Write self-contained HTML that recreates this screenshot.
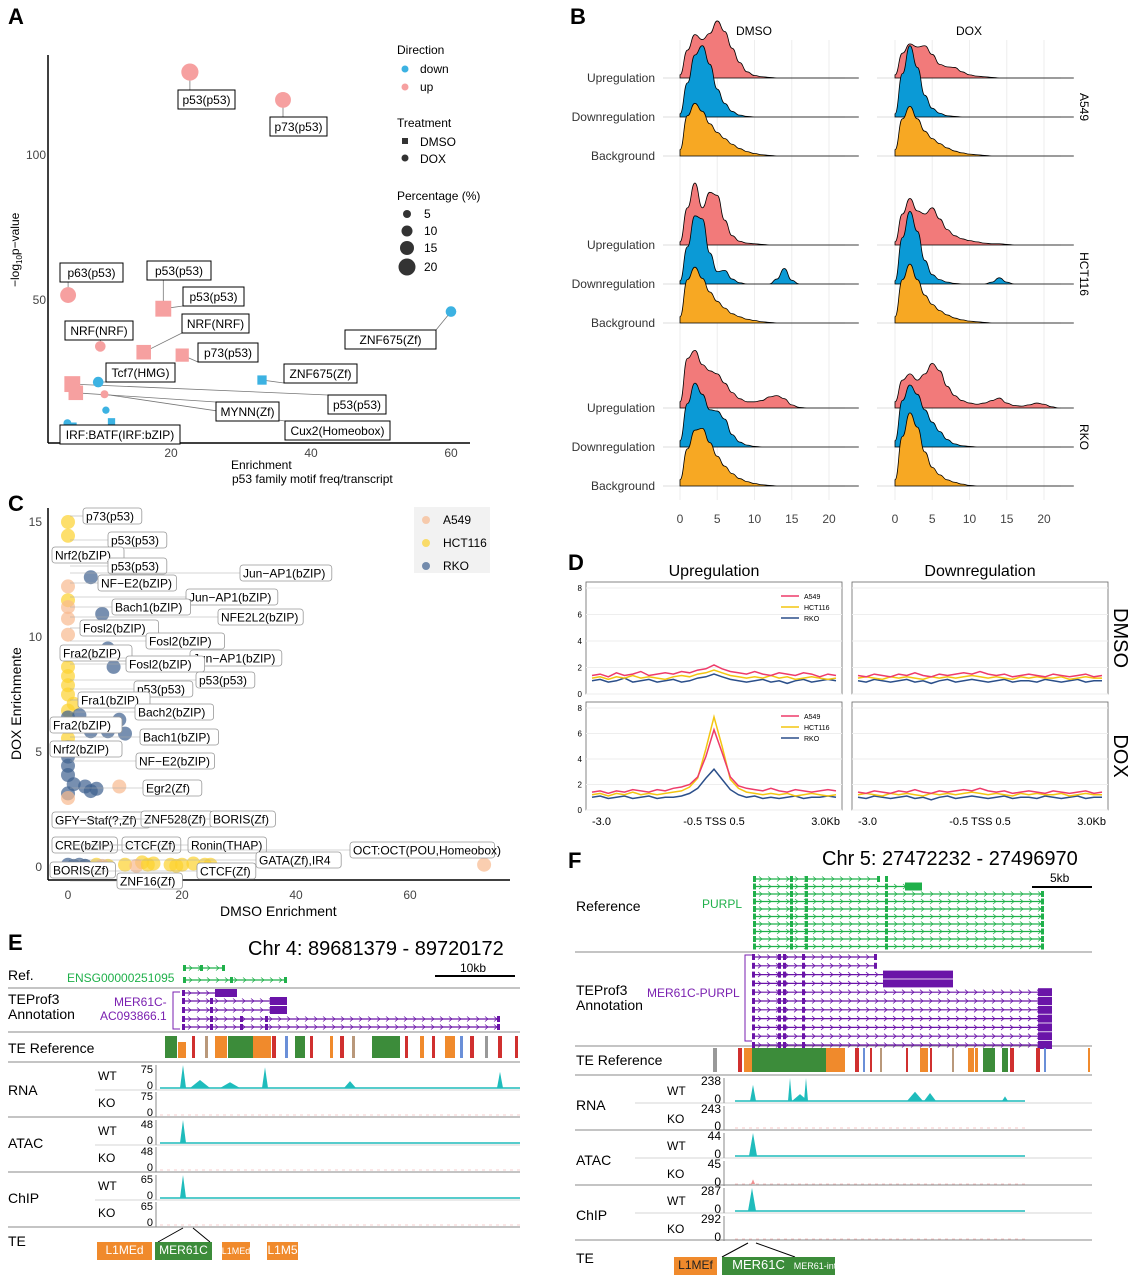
<!DOCTYPE html>
<html><head><meta charset="utf-8"><style>
body{margin:0;background:#fff}
svg{display:block;font-family:"Liberation Sans",Arial,sans-serif}
</style></head><body>
<svg id="fig" width="1131" height="1280" viewBox="0 0 1131 1280">
<g id="gA"></g>
<g id="gB"></g>
<g id="gC"></g>
<g id="gD"></g>
<g id="gE"></g>
<g id="gF"></g>
</svg>
<script>
// ---------- Panel A data ----------
const aX=[22.7,36,5.3,18.9,9.9,16.1,21.6,9.6,33,60,5.9,6.4,10.5,11.5,10.7,5.2,6.0];
const aY=[128.6,119,51.7,47,34,32,31,21.7,22.4,46,21,18,17.5,8,12,7.5,6.5];
const aDir=['up','up','up','up','up','up','up','down','down','down','up','up','up','down','down','down','down'];
const aTreat=['DOX','DOX','DOX','DMSO','DOX','DMSO','DMSO','DOX','DMSO','DOX','DMSO','DMSO','DOX','DMSO','DOX','DOX','DMSO'];
const aPct=[20,18,18,18,10,16,14,10,8,10,18,16,6,5,5,6,5];
const aXTicks=[20,40,60];
const aYTicks=[50,100];
// ---------- Panel B data (density heights on x grid 0..24) ----------
const bGrid=[0,1,2,3,4,5,6,7,8,9,10,11,12,13,14,15,16,17,18,19,20,21,22,23,24];
const bDens={
a549_dmso:[[0.05,0.45,0.7,0.62,0.72,0.92,0.75,0.48,0.25,0.1,0.04,0.02,0.01,0,0,0,0,0,0,0,0,0,0,0,0],
 [0.05,0.55,1.0,1.15,0.85,0.45,0.22,0.09,0.03,0.01,0,0,0,0,0,0,0,0,0,0,0,0,0,0,0],
 [0.1,0.65,0.85,0.72,0.52,0.38,0.28,0.19,0.12,0.07,0.04,0.02,0.01,0,0,0,0,0,0,0,0,0,0,0,0]],
a549_dox:[[0.05,0.4,0.55,0.5,0.52,0.38,0.22,0.18,0.17,0.1,0.05,0.03,0.02,0.01,0,0,0,0,0,0,0,0,0,0,0],
 [0.05,0.7,1.15,0.8,0.35,0.14,0.06,0.02,0.01,0,0,0,0,0,0,0,0,0,0,0,0,0,0,0,0],
 [0.1,0.6,0.8,0.6,0.4,0.28,0.2,0.13,0.08,0.05,0.03,0.02,0.01,0,0,0,0,0,0,0,0,0,0,0,0]],
hct_dmso:[[0.05,0.6,1.0,0.6,0.85,0.8,0.4,0.15,0.06,0.03,0.02,0.01,0,0,0,0,0,0,0,0,0,0,0,0,0],
 [0.05,0.6,1.1,1.05,0.5,0.2,0.22,0.08,0.02,0,0,0,0,0.08,0.25,0.06,0,0,0,0,0,0,0,0,0],
 [0.1,0.7,0.9,0.72,0.5,0.35,0.24,0.15,0.1,0.06,0.04,0.02,0.01,0,0,0,0,0,0,0,0,0,0,0,0]],
hct_dox:[[0.05,0.5,0.75,0.55,0.5,0.6,0.42,0.25,0.15,0.1,0.07,0.05,0.03,0.02,0.02,0.01,0,0,0,0,0,0,0,0,0],
 [0.05,0.75,1.17,0.85,0.38,0.15,0.07,0.03,0.01,0,0,0,0,0.03,0.1,0.03,0,0,0,0,0,0,0,0,0],
 [0.1,0.7,0.95,0.7,0.45,0.3,0.2,0.13,0.08,0.05,0.03,0.02,0.01,0,0,0,0,0,0,0,0,0,0,0,0]],
rko_dmso:[[0.1,0.8,0.93,0.7,0.6,0.55,0.4,0.25,0.15,0.1,0.1,0.12,0.18,0.2,0.15,0.05,0.01,0,0,0,0,0,0,0,0],
 [0.1,0.7,1.03,0.85,0.6,0.58,0.45,0.2,0.08,0.03,0.01,0,0,0,0,0,0,0,0,0,0,0,0,0,0],
 [0.1,0.6,0.9,0.93,0.7,0.48,0.32,0.2,0.12,0.07,0.04,0.02,0.01,0,0,0,0,0,0,0,0,0,0,0,0]],
rko_dox:[[0.1,0.45,0.55,0.45,0.55,0.72,0.6,0.35,0.2,0.12,0.08,0.06,0.08,0.12,0.16,0.08,0.04,0.03,0.05,0.08,0.06,0.02,0,0,0],
 [0.1,0.75,1.0,0.85,0.6,0.4,0.25,0.12,0.05,0.02,0.01,0,0,0,0,0,0,0,0,0,0,0,0,0,0],
 [0.1,0.8,1.18,0.95,0.55,0.3,0.18,0.1,0.06,0.03,0.01,0,0,0,0,0,0,0,0,0,0,0,0,0,0]]};
const bXTicks=[0,5,10,15,20];
const bRows=['Upregulation','Downregulation','Background'];
const bCells=['A549','HCT116','RKO'];
// ---------- Panel C data ----------
const cX=[0,0,0,4,0,0,0,6,0,0,7,0,0,8,0,0,0,1,0,0,2,0,9,4,0,0,7,0,0,10,0,1,0,5,0,3,4,9,0,2,3,5,7,10,13,15,18,20,22,25,1,3,6,12,14,19,24,73];
const cY=[15.0,14.4,13.6,12.6,12.2,11.6,11.3,11.0,10.8,10.1,9.5,9.2,8.7,8.7,8.3,7.9,7.5,7.1,6.8,6.5,6.6,6.2,6.4,5.9,5.6,5.2,5.9,4.8,4.4,5.8,4.0,3.6,3.2,3.4,3.0,3.5,3.3,3.5,0.1,0.1,0.05,0.1,0.05,0.1,0.2,0.15,0.1,0.1,0.15,0.1,0.05,0.05,0.05,0.05,0.1,0.05,0.1,0.1];
const cCell=['HCT116','HCT116','A549','RKO','A549','HCT116','A549','RKO','A549','A549','RKO','HCT116','HCT116','RKO','HCT116','HCT116','HCT116','HCT116','HCT116','RKO','RKO','HCT116','RKO','RKO','HCT116','RKO','RKO','RKO','RKO','RKO','RKO','RKO','RKO','RKO','A549','RKO','RKO','A549','RKO','RKO','RKO','HCT116','HCT116','HCT116','HCT116','HCT116','HCT116','HCT116','HCT116','HCT116','RKO','RKO','A549','A549','HCT116','HCT116','HCT116','A549'];
const cXTicks=[0,20,40,60];
const cYTicks=[0,5,10,15];
// ---------- Panel D data (x = -3..3, 31 points) ----------
const dA549Up=[1.4,1.5,1.3,1.6,1.4,1.5,1.7,1.4,1.5,1.6,1.5,1.7,1.6,1.8,1.9,2.2,1.9,1.7,1.6,1.5,1.7,1.5,1.4,1.6,1.5,1.4,1.6,1.5,1.3,1.5,1.4];
const dHctUp=[1.2,1.3,1.1,1.3,1.2,1.4,1.2,1.3,1.2,1.1,1.3,1.4,1.3,1.5,1.6,1.8,1.6,1.4,1.3,1.2,1.3,1.2,1.4,1.2,1.3,1.1,1.2,1.3,1.2,1.1,1.2];
const dRkoUp=[1.0,1.1,0.9,1.0,1.2,0.9,1.0,1.1,0.9,1.0,1.1,0.9,1.0,1.2,1.3,1.5,1.3,1.1,1.0,0.9,1.0,1.1,0.9,1.0,0.8,1.0,1.1,0.9,1.0,1.1,1.0];
const dA549DoxUp=[1.4,1.5,1.3,1.5,1.4,1.6,1.5,1.4,1.6,1.5,1.7,1.8,2.0,2.6,4.2,6.3,4.5,2.6,1.9,1.7,1.6,1.5,1.7,1.5,1.4,1.6,1.5,1.4,1.5,1.6,1.5];
const dHctDoxUp=[1.2,1.3,1.1,1.3,1.2,1.4,1.2,1.3,1.2,1.3,1.4,1.5,1.8,2.5,4.8,7.3,5.0,2.4,1.7,1.4,1.3,1.2,1.3,1.2,1.3,1.1,1.2,1.3,1.2,1.1,1.2];
const dRkoDoxUp=[1.0,1.1,0.9,1.0,1.1,0.9,1.0,1.1,0.9,1.0,1.0,1.1,1.3,1.7,2.5,3.2,2.4,1.6,1.2,1.0,1.1,0.9,1.0,0.9,1.0,1.1,0.9,1.0,1.0,1.1,1.0];
const dA549Down=[1.4,1.3,1.5,1.4,1.3,1.5,1.4,1.6,1.4,1.3,1.5,1.4,1.5,1.6,1.5,1.7,1.5,1.4,1.5,1.3,1.4,1.5,1.4,1.3,1.5,1.4,1.3,1.4,1.5,1.3,1.4];
const dHctDown=[1.2,1.3,1.2,1.1,1.3,1.2,1.3,1.2,1.1,1.3,1.2,1.3,1.2,1.3,1.4,1.3,1.2,1.3,1.2,1.1,1.3,1.2,1.3,1.2,1.2,1.3,1.1,1.2,1.3,1.2,1.2];
const dRkoDown=[1.0,0.9,1.1,1.0,0.9,1.0,1.1,0.9,1.0,0.8,1.0,1.1,0.9,1.0,1.1,1.0,0.9,1.0,1.1,0.9,1.0,1.0,0.9,1.1,1.0,0.9,1.0,1.1,0.9,1.0,1.0];
const dYTicks=[0,2,4,6,8];

const NS='http://www.w3.org/2000/svg';
function el(p,tag,at,txt){const e=document.createElementNS(NS,tag);for(const k in at)e.setAttribute(k,at[k]);if(txt!==undefined)e.textContent=txt;p.appendChild(e);return e;}
function T(p,x,y,s,size,extra){const a=Object.assign({x:x,y:y,'font-size':size||12,fill:'#000'},extra||{});return el(p,'text',a,s);}

// ---------- Panel A ----------
(function(){
const g=document.getElementById('gA');
const sx=v=>31+7*v, sy=v=>445-2.9*v;
T(g,8,24,'A',22,{'font-weight':'bold'});
el(g,'line',{x1:48,y1:55,x2:48,y2:443,stroke:'#000','stroke-width':1.5});
el(g,'line',{x1:48,y1:443,x2:470,y2:443,stroke:'#000','stroke-width':1.5});
aXTicks.forEach(t=>{const tl=T(g,sx(t),457,String(t),12,{'text-anchor':'middle',fill:'#444'});});
aYTicks.forEach(t=>{const tl=T(g,46,sy(t)+4,String(t),12,{'text-anchor':'end',fill:'#444'});});
const yt=el(g,'text',{x:0,y:0,'font-size':12,transform:'translate(19,287) rotate(-90)'});yt.innerHTML='−log<tspan font-size="8" dy="3">10</tspan><tspan dy="-3">p−value</tspan>';

T(g,231,469,'Enrichment',12);
T(g,232,483,'p53 family motif freq/transcript',12);
const labels=[['p53(p53)',178,90,57,0],['p73(p53)',270,117,57,1],['p63(p53)',60,263,63,2],['p53(p53)',147,261,64,3],['p53(p53)',183,287,61,3],['NRF(NRF)',65,321,68,4],['NRF(NRF)',182,314,67,5],['p73(p53)',198,343,60,6],['Tcf7(HMG)',106,363,69,7],['ZNF675(Zf)',345,330,91,9],['ZNF675(Zf)',284,364,73,8],['p53(p53)',328,395,58,10],['MYNN(Zf)',216,402,63,11],['Cux2(Homeobox)',285,421,105,12],['IRF:BATF(IRF:bZIP)',60,425,120,15]];
labels.forEach(l=>{const px=sx(aX[l[4]]),py=sy(aY[l[4]]);const cx=Math.max(l[1],Math.min(l[1]+l[3],px));const cy=py<l[2]?l[2]:l[2]+19;
 el(g,'line',{x1:px,y1:py,x2:cx,y2:cy,stroke:'#777','stroke-width':0.8});});
aX.forEach((v,i)=>{const c=aDir[i]==='up'?'#f6a0a0':'#3cb2e2';const r=2+aPct[i]*0.33;let m;
 if(aTreat[i]==='DOX')m=el(g,'circle',{cx:sx(v),cy:sy(aY[i]),r:r,fill:c});
 else m=el(g,'rect',{x:sx(v)-r,y:sy(aY[i])-r,width:2*r,height:2*r,fill:c});
 });
labels.forEach(l=>{el(g,'rect',{x:l[1],y:l[2],width:l[3],height:19,fill:'#fff',stroke:'#000','stroke-width':1});
 const t=T(g,l[1]+l[3]/2,l[2]+14,l[0],12,{'text-anchor':'middle'});});
// legend
T(g,397,54,'Direction',12);el(g,'circle',{cx:405,cy:69,r:3.5,fill:'#3cb2e2'});T(g,420,73,'down',12);
el(g,'circle',{cx:405,cy:87,r:3.5,fill:'#f6a0a0'});T(g,420,91,'up',12);
T(g,397,127,'Treatment',12);el(g,'rect',{x:402,y:138,width:6,height:6,fill:'#333'});T(g,420,146,'DMSO',12);
el(g,'circle',{cx:405,cy:158,r:3.5,fill:'#333'});T(g,420,163,'DOX',12);
T(g,397,200,'Percentage (%)',12);
[[5,214,4],[10,231,5.5],[15,248,7],[20,267,8.5]].forEach(s=>{el(g,'circle',{cx:407,cy:s[1],r:s[2],fill:'#333'});T(g,424,s[1]+4,String(s[0]),12);});
})();

// ---------- Panel B ----------
(function(){
const g=document.getElementById('gB');
T(g,570,24,'B',22,{'font-weight':'bold'});
const cols=[{x0:680,name:'DMSO',left:663,right:845},{x0:895,name:'DOX',left:877,right:1061}];
const k=7.45;
const base=[[78,117,156],[245,284,323],[408,447,486]];
const cols3=['#f27a7a','#0b9ad6','#f7a823'];
const keys=[['a549_dmso','a549_dox'],['hct_dmso','hct_dox'],['rko_dmso','rko_dox']];
cols.forEach((c,ci)=>{
 T(g,(c.left+c.right)/2,35,c.name,12,{'text-anchor':'middle'});
 bXTicks.forEach(t=>{el(g,'line',{x1:c.x0+k*t,y1:40,x2:c.x0+k*t,y2:500,stroke:'#eee'});
  const tl=T(g,c.x0+k*t,523,String(t),12,{'text-anchor':'middle',fill:'#444'});});
 for(let r=0;r<3;r++){const d=bDens[keys[r][ci]];
  for(let s=0;s<3;s++){const b=base[r][s];
   el(g,'line',{x1:c.left,y1:b,x2:c.right,y2:b,stroke:'#ddd'});
   let pts=bGrid.map((x,i)=>[c.x0+k*x,b-62*d[s][i]]);
   let p='M'+pts[0][0]+','+b+' L'+pts[0][0]+','+pts[0][1];
   for(let i=1;i<pts.length;i++){const a=pts[i-1],q=pts[i];const mx=(a[0]+q[0])/2;p+=' C'+mx+','+a[1]+' '+mx+','+q[1]+' '+q[0]+','+q[1];}
   p+=' L'+c.right+','+b;
   const path=el(g,'path',{d:p+' Z',fill:cols3[s],stroke:'#000','stroke-width':0.8});
   
  }}
});
for(let r=0;r<3;r++){for(let s=0;s<3;s++)T(g,655,base[r][s]+4,bRows[s],12,{'text-anchor':'end',fill:'#333'});
 T(g,0,0,bCells[r],12,{transform:'translate(1080,'+(base[r][1]-10)+') rotate(90)','text-anchor':'middle'});}
})();

// ---------- Panel C ----------
(function(){
const g=document.getElementById('gC');
const sx=v=>68+5.7*v, sy=v=>867-23*v;
T(g,8,511,'C',22,{'font-weight':'bold'});
el(g,'line',{x1:48,y1:508,x2:48,y2:880,stroke:'#000','stroke-width':1.5});
el(g,'line',{x1:48,y1:880,x2:510,y2:880,stroke:'#000','stroke-width':1.5});
cXTicks.forEach(t=>{const tl=T(g,sx(t),899,String(t),12,{'text-anchor':'middle',fill:'#444'});});
cYTicks.forEach(t=>{const tl=T(g,42,sy(t)+4,String(t),12,{'text-anchor':'end',fill:'#444'});});
T(g,220,916,'DMSO Enrichment',14);
T(g,0,0,'DOX Enrichmente',14,{transform:'translate(21,760) rotate(-90)'});
const cc={A549:'#f8b98e',HCT116:'#fcd12e',RKO:'#3d5f8f'};
cX.forEach((v,i)=>{const m=el(g,'circle',{cx:sx(v),cy:sy(cY[i]),r:7,fill:cc[cCell[i]],'fill-opacity':0.7});});
const L=[['p73(p53)',83,516],['p53(p53)',108,540],['Nrf2(bZIP)',52,555],['p53(p53)',108,566],['NF−E2(bZIP)',98,583],['Jun−AP1(bZIP)',240,573],['Jun−AP1(bZIP)',186,597],['Bach1(bZIP)',112,607],['NFE2L2(bZIP)',218,617],['Fosl2(bZIP)',80,628],['Fosl2(bZIP)',146,641],['Fra2(bZIP)',60,653],['Jun−AP1(bZIP)',190,658],['Fosl2(bZIP)',126,664],['p53(p53)',196,680],['p53(p53)',134,689],['Fra1(bZIP)',78,700],['Bach2(bZIP)',135,712],['Fra2(bZIP)',50,725],['Bach1(bZIP)',140,737],['Nrf2(bZIP)',50,749],['NF−E2(bZIP)',136,761],['Egr2(Zf)',143,788],['GFY−Staf(?,Zf)',52,820],['ZNF528(Zf)',141,819],['BORIS(Zf)',210,819],['CRE(bZIP)',52,845],['CTCF(Zf)',122,845],['Ronin(THAP)',188,845],['GATA(Zf),IR4',256,860],['OCT:OCT(POU,Homeobox)',350,850],['BORIS(Zf)',50,870],['ZNF16(Zf)',117,881],['CTCF(Zf)',197,871]];
L.forEach(l=>{const w=l[0].length*6.6+6;el(g,'line',{x1:70,y1:l[2],x2:l[1],y2:l[2],stroke:'#aaa','stroke-width':0.6});
 el(g,'rect',{x:l[1],y:l[2]-8,width:w,height:16,rx:3,fill:'#fff',stroke:'#999','stroke-width':0.8});
 const t=T(g,l[1]+3,l[2]+4.5,l[0],12);});
el(g,'rect',{x:414,y:507,width:76,height:66,fill:'#f2f2f2'});
[['A549',520],['HCT116',543],['RKO',566]].forEach(e=>{el(g,'circle',{cx:426,cy:e[1],r:4,fill:cc[e[0]],'fill-opacity':0.7});const t=T(g,443,e[1]+4,e[0],12);});
})();

// ---------- Panel D ----------
(function(){
const g=document.getElementById('gD');
T(g,568,570,'D',22,{'font-weight':'bold'});
const pans=[{x0:586,x1:842,title:'Upregulation'},{x0:852,x1:1108,title:'Downregulation'}];
const rows=[{y0:582,y1:694,name:'DMSO'},{y0:702,y1:810,name:'DOX'}];
const data=[[[dA549Up,dHctUp,dRkoUp],[dA549Down,dHctDown,dRkoDown]],[[dA549DoxUp,dHctDoxUp,dRkoDoxUp],[dA549Down,dHctDown,dRkoDown]]];
const lc=['#ee3b6a','#f3c511','#2b4f8a'];
pans.forEach((p,pi)=>{T(g,(p.x0+p.x1)/2,576,p.title,16,{'text-anchor':'middle'});
 rows.forEach((r,ri)=>{
  el(g,'rect',{x:p.x0,y:r.y0,width:p.x1-p.x0,height:r.y1-r.y0,fill:'#fff',stroke:'#666','stroke-width':0.8});
  const sy=v=>r.y1-(r.y1-r.y0-6)*v/8;
  const sx=i=>p.x0+6+(p.x1-p.x0-12)*i/30;
  dYTicks.forEach(t=>{el(g,'line',{x1:p.x0,y1:sy(t),x2:p.x1,y2:sy(t),stroke:'#eee'});if(pi===0)T(g,p.x0-4,sy(t)+3,String(t),8,{'text-anchor':'end'});});
  [2,1,0].forEach(s=>{const arr=data[ri][pi][s];const d=arr.map((v,i)=>(i?'L':'M')+sx(i).toFixed(1)+','+sy(v).toFixed(1)).join(' ');
   const pl=el(g,'path',{d:d,fill:'none',stroke:lc[s],'stroke-width':1.5});});
  if(pi===0){[['A549',0],['HCT116',1],['RKO',2]].forEach(e=>{const yy=r.y0+14+e[1]*11;el(g,'line',{x1:p.x0+195,y1:yy,x2:p.x0+213,y2:yy,stroke:lc[e[1]],'stroke-width':1.5});T(g,p.x0+218,yy+3,e[0],7);});}
  if(pi===1)T(g,0,0,r.name,20,{transform:'translate(1114,'+((r.y0+r.y1)/2)+') rotate(90)','text-anchor':'middle'});
 });
 T(g,p.x0+6,825,'-3.0',11);T(g,p.x0+128,825,'-0.5 TSS 0.5',11,{'text-anchor':'middle'});T(g,p.x1-2,825,'3.0Kb',11,{'text-anchor':'end'});
});
})();

// ---------- Genome browser helper ----------
function gene(g,x1,x2,y,col,exons,endBox){el(g,'line',{x1:x1,y1:y,x2:x2,y2:y,stroke:col,'stroke-width':1.2});
 for(let x=x1+6;x<x2-4;x+=9)el(g,'path',{d:'M'+x+','+(y-2.5)+' L'+(x+3)+','+y+' L'+x+','+(y+2.5),stroke:col,fill:'none','stroke-width':0.8});
 el(g,'rect',{x:x1,y:y-3,width:3,height:6,fill:col});el(g,'rect',{x:x2-3,y:y-3,width:3,height:6,fill:col});
 (exons||[]).forEach(e=>el(g,'rect',{x:e,y:y-3,width:3,height:6,fill:col}));
 if(endBox)el(g,'rect',{x:endBox[0],y:y-4,width:endBox[1],height:8,fill:col});}
function teRef(g,x1,x2,y,h,blocks){blocks.forEach(b=>el(g,'rect',{x:b[0],y:y+(b[3]||0),width:b[1],height:h-(b[3]||0),fill:b[2]}));}
function signal(g,x1,x2,yb,h,peaks,col,flat){el(g,'line',{x1:x1,y1:yb,x2:x2,y2:yb,stroke:col,'stroke-width':flat?0.6:1.5,'stroke-dasharray':flat?'3,4':''});
 peaks.forEach(p=>el(g,'path',{d:'M'+(p[0]-p[2])+','+yb+' L'+p[0]+','+(yb-h*p[1])+' L'+(p[0]+p[2])+','+yb+' Z',fill:col}));}
const OR='#f08a2c',GR='#3c8c3a',RD='#d0302f',BL='#6a8fd8',GY='#999',BR='#b9987a';

// ---------- Panel E ----------
(function(){
const g=document.getElementById('gE');
T(g,8,950,'E',22,{'font-weight':'bold'});
T(g,248,955,'Chr 4: 89681379 - 89720172',20);
el(g,'line',{x1:435,y1:976,x2:515,y2:976,stroke:'#000','stroke-width':2});T(g,460,972,'10kb',12);
[988,1032,1062,1117,1172,1227].forEach(y=>el(g,'line',{x1:8,y1:y,x2:520,y2:y,stroke:'#888','stroke-width':1}));
T(g,8,980,'Ref.',14);T(g,67,982,'ENSG00000251095',12,{fill:'#1fb04a'});
gene(g,183,225,968,'#1fb04a',[200]);gene(g,183,287,980,'#1fb04a',[230]);
T(g,8,1004,'TEProf3',14);T(g,8,1019,'Annotation',14);
T(g,114,1006,'MER61C-',12,{fill:'#7a1fb0'});T(g,100,1020,'AC093866.1',12,{fill:'#7a1fb0'});
el(g,'path',{d:'M180,992 L173,992 L173,1029 L180,1029',fill:'none',stroke:'#7a1fb0','stroke-width':1});
gene(g,182,237,993,'#6a14a8',[],[215,22]);gene(g,182,287,1001,'#6a14a8',[210],[270,17]);gene(g,182,287,1010,'#6a14a8',[210],[270,17]);
gene(g,182,500,1019,'#6a14a8',[210,240,265]);gene(g,182,500,1027,'#6a14a8',[210,240,265]);
T(g,8,1053,'TE Reference',14);
teRef(g,165,520,1036,22,[[165,12,GR],[178,8,OR,6],[192,3,RD],[205,3,BR],[215,12,OR],[228,25,GR],[253,18,OR],[272,4,RD],[285,3,BL],[295,10,GR],[310,3,RD],[330,3,OR],[340,4,RD],[352,3,BR],[372,28,GR],[405,3,RD],[420,4,OR],[432,3,RD],[445,10,OR],[460,3,BL],[470,4,RD],[485,3,GY],[498,4,RD],[515,3,RD]]);
[['RNA',1095],['ATAC',1148],['ChIP',1203]].forEach(r=>T(g,8,r[1],r[0],14));
const tr=[[1065,1088,'75',[[183,1,3],[265,0.9,3],[350,0.3,6],[500,0.7,3],[200,0.35,10],[230,0.25,10]]],[1092,1115,'75',[]],[1120,1143,'48',[[183,1,3]]],[1147,1170,'48',[]],[1175,1198,'65',[[183,1,3]]],[1202,1225,'65',[]]];
tr.forEach((t,i)=>{T(g,98,t[0]+15,i%2?'KO':'WT',12);T(g,153,t[0]+8,t[2],11,{'text-anchor':'end'});T(g,153,t[1]+1,'0',11,{'text-anchor':'end'});
 el(g,'line',{x1:156,y1:t[0],x2:156,y2:t[1]+2,stroke:'#888'});
 signal(g,160,520,t[1],t[1]-t[0],t[3],i%2?'#f0a0a0':'#1fbcbc',i%2===1);
 if(i%2===0)el(g,'line',{x1:95,y1:t[1]+2,x2:520,y2:t[1]+2,stroke:'#aaa','stroke-width':0.6});});
T(g,8,1246,'TE',14);
el(g,'path',{d:'M183,1228 L158,1242 M193,1228 L210,1242',stroke:'#000',fill:'none'});
[[97,55,OR,'L1MEd',12],[155,57,GR,'MER61C',12],[222,28,OR,'L1MEd',9],[267,31,OR,'L1M5',12]].forEach(b=>{el(g,'rect',{x:b[0],y:1242,width:b[1],height:18,fill:b[2]});T(g,b[0]+b[1]/2,1254,b[3],b[4],{'text-anchor':'middle',fill:'#fff'});});
})();

// ---------- Panel F ----------
(function(){
const g=document.getElementById('gF');
T(g,568,868,'F',22,{'font-weight':'bold'});
T(g,822,865,'Chr 5: 27472232 - 27496970',20);
el(g,'line',{x1:1032,y1:887,x2:1092,y2:887,stroke:'#000','stroke-width':2});T(g,1050,882,'5kb',12);
[952,1046,1075,1130,1185,1240].forEach(y=>el(g,'line',{x1:575,y1:y,x2:1092,y2:y,stroke:'#888','stroke-width':1}));
T(g,576,911,'Reference',14);T(g,702,908,'PURPL',12,{fill:'#1fb04a'});
for(let i=0;i<10;i++){const y=879+i*7.5;const ends=[880,920,1044,1044,1044,1044,1044,1044,1044,1044];gene(g,753,ends[i],y,'#1fb04a',[790,805,885],i===1?[905,17]:null);}
T(g,576,995,'TEProf3',14);T(g,576,1010,'Annotation',14);T(g,647,997,'MER61C-PURPL',12,{fill:'#7a1fb0'});
el(g,'path',{d:'M752,955 L745,955 L745,1041 L752,1041',fill:'none',stroke:'#7a1fb0','stroke-width':1});
for(let i=0;i<11;i++){const y=957+i*8.8;const ends=[877,877,952,952,1052,1052,1052,1052,1052,1052,1052];
 gene(g,752,ends[i],y,'#6a14a8',[778,783,802],i>=2&&i<=3?[883,70]:(i>=4?[1038,14]:null));}
T(g,576,1065,'TE Reference',14);
teRef(g,710,1092,1048,24,[[713,4,GY],[738,4,RD],[744,8,OR],[752,74,GR],[826,15,OR],[840,5,OR],[855,4,RD],[863,2,BL],[870,2,RD],[880,2,BR],[906,2,RD],[920,8,OR],[930,2,RD],[952,2,BR],[968,6,OR],[975,3,OR],[983,12,GR],[1002,6,GR],[1010,4,RD],[1036,4,RD],[1044,2,BL],[1088,2,OR]]);
[['RNA',1110],['ATAC',1165],['ChIP',1220]].forEach(r=>T(g,576,r[1],r[0],14));
const tr=[[1078,1101,'238',[[753,0.7,3],[790,1,2],[806,1,2],[800,0.3,8],[915,0.4,8],[930,0.35,6],[1005,0.2,3]]],[1106,1128,'243',[]],[1133,1156,'44',[[753,1,4]]],[1161,1184,'45',[[753,0.2,2]]],[1188,1211,'287',[[752,1,4]]],[1216,1239,'292',[]]];
tr.forEach((t,i)=>{T(g,667,t[0]+17,i%2?'KO':'WT',12);T(g,721,t[0]+7,t[2],12,{'text-anchor':'end'});T(g,721,t[1]+2,'0',12,{'text-anchor':'end'});
 el(g,'line',{x1:724,y1:t[0],x2:724,y2:t[1]+2,stroke:'#888'});
 signal(g,735,1025,t[1],t[1]-t[0],t[3],i%2?'#f09090':'#1fbcbc',i%2===1);
 if(i%2===0)el(g,'line',{x1:635,y1:t[1]+2,x2:1092,y2:t[1]+2,stroke:'#aaa','stroke-width':0.6});});
T(g,576,1263,'TE',14);
el(g,'path',{d:'M748,1243 L722,1257 M756,1243 L795,1257',stroke:'#000',fill:'none'});
[[674,43,OR,'L1MEf',12],[722,73,GR,'MER61C',13],[795,40,GR,'MER61-int',9]].forEach(b=>{el(g,'rect',{x:b[0],y:1257,width:b[1],height:18,fill:b[2]});T(g,b[0]+b[1]/2,1269,b[3],b[4],{'text-anchor':'middle',fill:b[2]===OR?'#222':'#fff'});});
})();
</script>
</body></html>
